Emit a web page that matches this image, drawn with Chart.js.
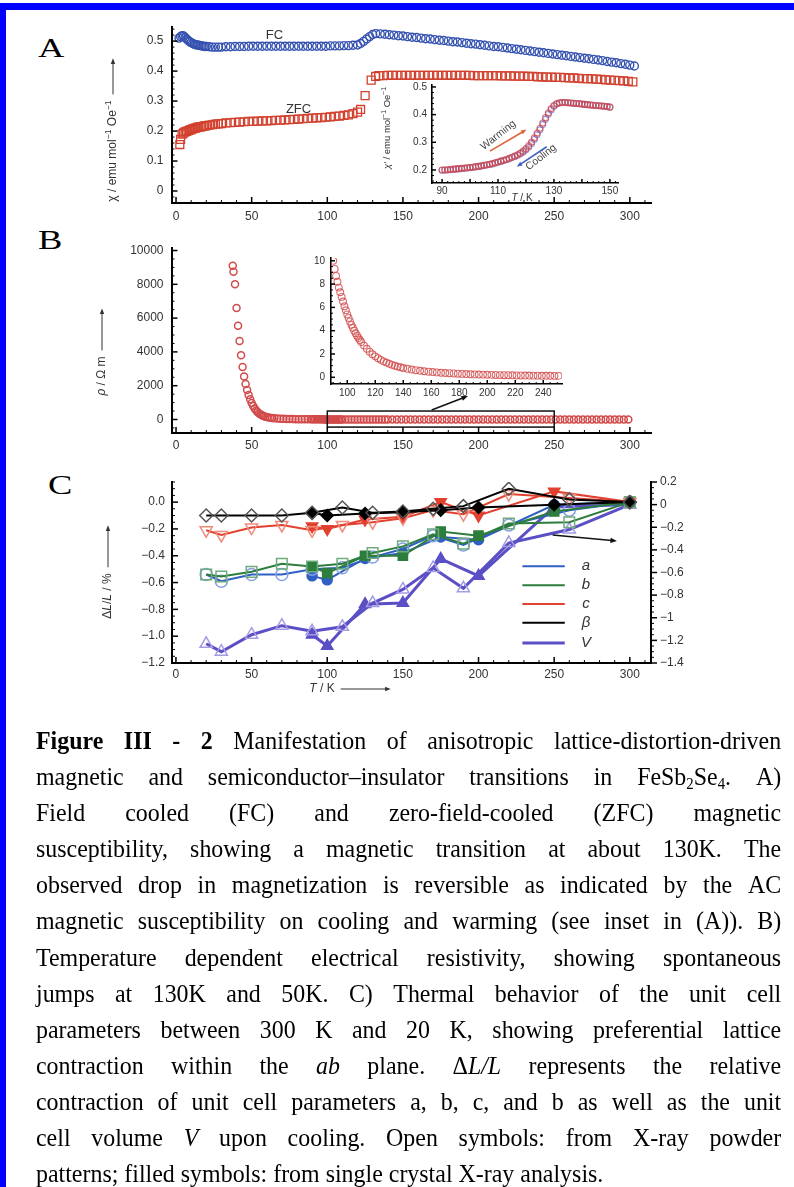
<!DOCTYPE html>
<html lang="en">
<head>
<meta charset="utf-8">
<title>Figure III - 2</title>
<script src="https://cdn.jsdelivr.net/npm/chart.js@4.4.1/dist/chart.umd.min.js"></script>
<style>
html, body { margin: 0; padding: 0; background: #fff; }
#page { position: relative; width: 794px; height: 1187px; overflow: hidden; background: #fff; }
#page canvas { position: absolute; left: 0; top: 0; }
.bar-top { position: absolute; left: 0; top: 3px; width: 794px; height: 7px; background: #0000ff; }
.bar-left { position: absolute; left: 0; top: 3px; width: 6px; height: 1184px; background: #0000ff; }
.letter { position: absolute; font-family: "Liberation Serif", "Times New Roman", serif; font-size: 27px; line-height: 1; transform: scaleX(1.35); transform-origin: left top; }
#caption { position: absolute; left: 36px; top: 723px; width: 810px; transform: scaleX(0.92); transform-origin: left top;
  font-family: "Liberation Serif", "Times New Roman", serif; font-size: 26px; color: #000; }
#caption .ln { display: flex; justify-content: space-between; height: 36.1px; line-height: 36.1px; white-space: nowrap; }
#caption .last { height: 36.1px; line-height: 36.1px; white-space: nowrap; }
#caption sub { font-size: 0.62em; vertical-align: -0.25em; line-height: 0; }
</style>
</head>
<body>
<div id="page">
  <div class="bar-top"></div>
  <div class="bar-left"></div>
  <div class="letter" style="left:38px;top:35px">A</div>
  <div class="letter" style="left:38px;top:227px">B</div>
  <div class="letter" style="left:48px;top:472px">C</div>
  <canvas id="chartA" width="794" height="1187"></canvas>
  <canvas id="insetA" width="794" height="1187"></canvas>
  <canvas id="chartB" width="794" height="1187"></canvas>
  <canvas id="insetB" width="794" height="1187"></canvas>
  <canvas id="chartC" width="794" height="1187"></canvas>
  <div id="caption"></div>
</div>
<script>
// ---------- A : FC / ZFC susceptibility ----------
const fcT = [2,3,4,5,6,7,8,9,10,11,12,13,14,15,16,17,18,19,20,
  22,24,26,28,30,
  33,36,39,42,45,48,51,54,57,60,63,66,69,72,75,78,81,84,87,90,93,96,99,102,105,108,111,114,117,120,
  122,124,126,128,130,132,
  135,138,141,144,147,150,153,156,159,162,165,168,171,174,177,180,183,186,189,192,195,198,201,204,207,210,
  213,216,219,222,225,228,231,234,237,240,243,246,249,252,255,258,261,264,267,270,273,276,279,282,285,288,
  291,294,297,300,303];
const fcChi = [0.510,0.515,0.518,0.517,0.512,0.507,0.502,0.498,0.495,0.492,0.490,0.488,0.487,0.486,0.485,0.484,0.483,0.482,0.482,
  0.481,0.480,0.480,0.480,0.480,
  0.481,0.481,0.482,0.482,0.482,0.483,0.483,0.483,0.483,0.483,0.483,0.483,0.483,0.483,0.483,0.483,0.483,0.483,0.483,0.483,
  0.483,0.483,0.483,0.484,0.484,0.484,0.485,0.485,0.486,0.487,
  0.492,0.499,0.507,0.515,0.522,0.525,
  0.524,0.523,0.521,0.520,0.518,0.517,0.515,0.513,0.512,0.510,0.508,0.507,0.505,0.503,0.502,0.500,0.498,0.497,0.495,0.493,
  0.491,0.490,0.488,0.486,0.484,0.482,0.481,0.479,0.477,0.475,0.473,0.471,0.469,0.467,0.465,0.463,0.461,0.459,0.457,0.455,
  0.453,0.451,0.449,0.447,0.445,0.443,0.441,0.439,0.437,0.435,0.432,0.430,0.428,0.425,0.423,0.420,0.417];
const zfcT = [2.5,3,4,5,6,7,8,9,10,11,12,13,14,15,16,17,18,19,20,
  22,24,26,28,30,
  33,36,39,42,45,48,51,54,57,60,63,66,69,72,75,78,81,84,87,90,93,96,99,102,105,108,111,114,117,120,
  122,125,129,132,134,
  137,140,143,146,149,152,155,158,161,164,167,170,173,176,179,182,185,188,191,194,197,200,203,206,209,212,
  215,218,221,224,227,230,233,236,239,242,245,248,251,254,257,260,263,266,269,272,275,278,281,284,287,290,
  293,296,299,302];
const zfcChi = [0.155,0.172,0.190,0.194,0.197,0.199,0.201,0.203,0.205,0.207,0.209,0.210,0.212,0.213,0.214,0.215,0.216,0.217,0.218,
  0.220,0.221,0.223,0.224,0.225,
  0.227,0.228,0.229,0.230,0.231,0.232,0.232,0.233,0.234,0.234,0.235,0.236,0.236,0.237,0.238,0.239,0.240,0.241,0.242,0.243,
  0.244,0.245,0.246,0.247,0.249,0.250,0.252,0.254,0.258,0.263,
  0.272,0.318,0.370,0.382,0.385,
  0.385,0.386,0.386,0.386,0.386,0.386,0.386,0.386,0.386,0.386,0.386,0.386,0.386,0.386,0.386,0.386,0.386,0.386,0.386,0.386,
  0.385,0.385,0.385,0.385,0.385,0.385,0.384,0.384,0.384,0.383,0.383,0.383,0.382,0.382,0.381,0.381,0.380,0.380,0.379,0.379,
  0.378,0.377,0.377,0.376,0.375,0.375,0.374,0.373,0.372,0.371,0.370,0.369,0.368,0.367,0.366,0.364];

// inset A : AC susceptibility, warming / cooling
const acT = [90,91,92,93,94,95,96,97,98,99,100,101,102,103,104,105,106,107,108,109,110,111,112,113,114,115,116,117,118,119,
  120,121,122,123,124,125,126,127,128,129,130,131,132,133,134,135,136,137,138,139,140,141,142,143,144,145,146,147,148,149,150];
const acWarm = [0.200,0.200,0.201,0.202,0.203,0.204,0.205,0.206,0.207,0.208,0.209,0.210,0.212,0.213,0.215,0.217,0.219,0.221,0.223,0.226,
  0.229,0.232,0.235,0.238,0.242,0.246,0.250,0.255,0.261,0.268,0.277,0.288,0.301,0.316,0.333,0.351,0.370,0.389,0.407,0.422,
  0.433,0.440,0.443,0.444,0.444,0.443,0.442,0.441,0.440,0.439,0.438,0.437,0.436,0.435,0.434,0.433,0.432,0.431,0.430,0.429,0.427];
const acCool = [0.199,0.200,0.200,0.201,0.202,0.203,0.204,0.205,0.206,0.207,0.208,0.210,0.211,0.213,0.214,0.216,0.218,0.220,0.222,0.225,
  0.228,0.231,0.234,0.237,0.241,0.245,0.249,0.253,0.259,0.265,0.273,0.283,0.296,0.310,0.327,0.345,0.364,0.383,0.401,0.417,
  0.430,0.438,0.442,0.444,0.444,0.443,0.442,0.441,0.440,0.439,0.438,0.437,0.436,0.435,0.434,0.433,0.432,0.431,0.430,0.429,0.427];

// ---------- B : resistivity ----------
const rhoLowT = [37.5,38,39,40,41,42,43,44,45,46,47,48,49,50,51,52,53,54,55,56,57,58,59,60.5,62,63.5,65,67,69,71,73,75,77,79,81,83,85,87,89];
const rhoLow = [9100,8750,8000,6600,5550,4650,3800,3100,2550,2100,1750,1450,1200,980,800,650,530,430,350,290,
  240,200,165,130,105,85,68,55,45,38,32,28,24,21,18,16,14.5,13,11.5];
const rhoMidT = [90,91,92,93,94,95,96,97,98,99,100,101,102,103,104,105,106,107,108,109,110,
  112,114,116,118,120,122,124,126,128,130,132,134,136,138,140,
  143,146,149,152,155,158,161,164,167,170,173,176,179,182,185,188,191,194,197,200,203,206,209,212,215,218,221,224,227,
  230,233,236,239,242,245,248,251];
const rhoMid = [10.0,9.3,8.7,8.2,7.7,7.3,6.9,6.5,6.1,5.75,5.4,5.1,4.8,4.5,4.25,4.0,3.78,3.57,3.38,3.2,3.03,
  2.72,2.45,2.2,1.98,1.8,1.64,1.5,1.37,1.26,1.16,1.07,0.99,0.92,0.86,0.8,
  0.73,0.67,0.61,0.56,0.52,0.48,0.45,0.42,0.39,0.37,0.35,0.33,0.31,0.29,0.28,0.26,0.25,0.24,0.23,0.22,0.21,0.2,0.19,0.18,
  0.18,0.17,0.16,0.16,0.15,0.15,0.14,0.14,0.13,0.13,0.13,0.12,0.12];
const rhoHighT = [254,257,260,263,266,269,272,275,278,281,284,287,290,293,296,299];
const rhoHigh = [0.12,0.11,0.11,0.11,0.1,0.1,0.1,0.1,0.09,0.09,0.09,0.09,0.09,0.08,0.08,0.08];

// ---------- C : lattice parameters, dL/L in % ----------
const powderT = [20,30,50,70,90,110,130,150,170,190,220,260,300];   // open symbols
const crystalT = [90,100,125,150,175,200,250,300];                   // filled symbols
const aOpen = [-0.54,-0.59,-0.54,-0.54,-0.50,-0.49,-0.41,-0.35,-0.25,-0.32,-0.17,-0.06,0];
const aFill = [-0.55,-0.58,-0.42,-0.38,-0.26,-0.28,-0.02,0];
const bOpen = [-0.54,-0.555,-0.52,-0.46,-0.48,-0.46,-0.38,-0.33,-0.24,-0.31,-0.16,-0.15,0];
const bFill = [-0.48,-0.53,-0.40,-0.40,-0.22,-0.25,-0.07,0];
const cOpen = [-0.21,-0.245,-0.19,-0.17,-0.21,-0.17,-0.15,-0.12,-0.06,-0.09,0.06,0.03,0];
const cFill = [-0.18,-0.20,-0.13,-0.11,0.0,-0.10,0.08,0];
const betaOpen = [-0.10,-0.10,-0.10,-0.10,-0.08,-0.04,-0.08,-0.07,-0.05,-0.03,0.10,0.02,0];
const betaFill = [-0.08,-0.10,-0.085,-0.075,-0.06,-0.04,-0.02,0];
const vOpen = [-1.23,-1.30,-1.15,-1.07,-1.12,-1.08,-0.87,-0.75,-0.56,-0.74,-0.34,-0.22,0];   // right axis
const vFill = [-1.15,-1.25,-0.88,-0.87,-0.48,-0.63,-0.02,0];

// tick labels
const tempTicks = [0,50,100,150,200,250,300];
const chiTicks = [0,0.1,0.2,0.3,0.4,0.5];
const acTempTicks = [90,110,130,150];
const acChiTicks = [0.2,0.3,0.4,0.5];
const rhoTicks = [0,2000,4000,6000,8000,10000];
const rhoInTempTicks = [100,120,140,160,180,200,220,240];
const rhoInTicks = [0,2,4,6,8,10];
const dlTicks = [-1.2,-1.0,-0.8,-0.6,-0.4,-0.2,0.0];
const dvTicks = [-1.4,-1.2,-1,-0.8,-0.6,-0.4,-0.2,0,0.2];
const legendNames = ['a','b','c','β','V'];

const PAGE_W = 794, PAGE_H = 1187;
const FONT = '"Liberation Sans", Arial, sans-serif';
const TXT = '#333';
const MINUS = '\u2212';

const pts = (xs, ys) => xs.map((x, i) => ({ x: x, y: ys[i] }));

// chart area is placed at box (page pixels) - every canvas covers the whole page
function layoutFor(box, leftW, bottomH, rightW) {
  return { padding: { left: box.left - leftW, top: box.top, right: PAGE_W - box.right - (rightW || 0), bottom: PAGE_H - box.bottom - bottomH } };
}

function axis(o) {
  return {
    type: 'linear', position: o.position, min: o.min, max: o.max,
    grid: { display: true, drawOnChartArea: false, drawTicks: false },
    border: { display: true, color: '#000', width: o.lw || 2 },
    ticks: { autoSkip: false, maxRotation: 0, minRotation: 0, padding: o.pad, color: TXT,
      font: { family: FONT, size: o.size }, callback: o.fmt },
    afterBuildTicks: s => { s.ticks = o.ticks.map(v => ({ value: v })); },
    afterFit: s => {
      if (o.position === 'bottom') s.height = o.thick; else s.width = o.thick;
      s.paddingLeft = s.paddingRight = s.paddingTop = s.paddingBottom = 0;
    }
  };
}

function partFont(p, it) {
  const size = p.sup ? it.size * 0.72 : it.size;
  return (p.i ? 'italic ' : '') + size + 'px ' + FONT;
}

function drawRich(ctx, x, y, it) {
  const parts = it.parts || [{ t: it.text }];
  let w = 0;
  const widths = parts.map(p => { ctx.font = partFont(p, it); const pw = ctx.measureText(p.t).width; w += pw; return pw; });
  const gap = it.arrow ? 6 : 0;
  const total = w + gap + (it.arrow || 0);
  ctx.translate(x, y);
  ctx.rotate((it.rot || 0) * Math.PI / 180);
  ctx.fillStyle = it.color || TXT;
  ctx.textBaseline = 'middle';
  ctx.textAlign = 'left';
  let cx = -total / 2;
  parts.forEach((p, i) => {
    ctx.font = partFont(p, it);
    ctx.fillText(p.t, cx, p.sup ? -it.size * 0.35 : 0);
    cx += widths[i];
  });
  if (it.arrow) {
    ctx.strokeStyle = it.color || TXT;
    ctx.lineWidth = 1;
    ctx.beginPath();
    ctx.moveTo(cx + gap, 0);
    ctx.lineTo(total / 2 - 3, 0);
    ctx.stroke();
    arrowHead(ctx, 0, 0, total / 2, 0, 6, it.color || TXT);
  }
}

function arrowHead(ctx, x1, y1, x2, y2, size, color) {
  const a = Math.atan2(y2 - y1, x2 - x1);
  ctx.beginPath();
  ctx.moveTo(x2, y2);
  ctx.lineTo(x2 - size * Math.cos(a - 0.38), y2 - size * Math.sin(a - 0.38));
  ctx.lineTo(x2 - size * Math.cos(a + 0.38), y2 - size * Math.sin(a + 0.38));
  ctx.closePath();
  ctx.fillStyle = color;
  ctx.fill();
}

function toPx(chart, it, kx, ky) {
  return [chart.scales[it.xs || 'x'].getPixelForValue(it[kx]), chart.scales[it.ys || 'y'].getPixelForValue(it[ky])];
}

function drawItem(chart, ctx, it) {
  ctx.save();
  if (it.type === 'arrow' || it.type === 'seg') {
    const [x1, y1] = toPx(chart, it, 'x1', 'y1');
    const [x2, y2] = toPx(chart, it, 'x2', 'y2');
    const a = Math.atan2(y2 - y1, x2 - x1);
    const back = it.type === 'arrow' ? it.head * 0.7 : 0;
    ctx.strokeStyle = it.color;
    ctx.lineWidth = it.lw || 1.5;
    ctx.beginPath();
    ctx.moveTo(x1, y1);
    ctx.lineTo(x2 - back * Math.cos(a), y2 - back * Math.sin(a));
    ctx.stroke();
    if (it.type === 'arrow') arrowHead(ctx, x1, y1, x2, y2, it.head, it.color);
  } else if (it.type === 'rect') {
    const [x1, y1] = toPx(chart, it, 'x1', 'y1');
    const [x2, y2] = toPx(chart, it, 'x2', 'y2');
    ctx.strokeStyle = it.color;
    ctx.lineWidth = it.lw || 1.5;
    ctx.strokeRect(Math.min(x1, x2), Math.min(y1, y2), Math.abs(x2 - x1), Math.abs(y2 - y1));
  } else if (it.type === 'text') {
    const [x, y] = toPx(chart, it, 'x', 'y');
    drawRich(ctx, x, y, it);
  } else if (it.type === 'title') {
    drawRich(ctx, it.px, it.py, it);
  }
  ctx.restore();
}

// small tick marks drawn inside (or outside) the axes
function innerTicks(chart, ctx, t) {
  const s = chart.scales[t.axis], a = chart.chartArea;
  const dir = t.out ? -1 : 1;
  const n0 = Math.ceil(s.min / t.minor - 1e-6), n1 = Math.floor(s.max / t.minor + 1e-6);
  ctx.save();
  ctx.strokeStyle = '#000';
  for (let i = n0; i <= n1; i++) {
    const v = i * t.minor;
    const r = v / t.major;
    const major = Math.abs(r - Math.round(r)) < 1e-6;
    const len = major ? t.ml : t.nl;
    const p = s.getPixelForValue(v);
    ctx.lineWidth = major ? 1.5 : 1;
    ctx.beginPath();
    if (s.isHorizontal()) { ctx.moveTo(p, a.bottom); ctx.lineTo(p, a.bottom - len * dir); }
    else if (s.position === 'left') { ctx.moveTo(a.left, p); ctx.lineTo(a.left + len * dir, p); }
    else { ctx.moveTo(a.right, p); ctx.lineTo(a.right - len * dir, p); }
    ctx.stroke();
  }
  ctx.restore();
}

function marks(spec) {
  return {
    id: 'marks',
    afterDatasetsDraw(chart) { (spec.items || []).forEach(it => drawItem(chart, chart.ctx, it)); },
    afterDraw(chart) { (spec.ticks || []).forEach(t => innerTicks(chart, chart.ctx, t)); }
  };
}

function baseOptions(box, scales, leftW, bottomH, rightW) {
  return {
    responsive: false, animation: false, devicePixelRatio: 1,
    layout: layoutFor(box, leftW, bottomH, rightW),
    plugins: { legend: { display: false }, tooltip: { enabled: false } },
    scales: scales
  };
}

const fmt1 = v => (v === 0 ? '0' : v.toFixed(1));
const fmtDl = v => (Math.abs(v) < 1e-9 ? '0.0' : (v < 0 ? MINUS : '') + Math.abs(v).toFixed(1));
const fmtDv = v => {
  if (Math.abs(v) < 1e-9) return '0';
  let s = Math.abs(v).toFixed(1);
  if (s.endsWith('.0')) s = s.slice(0, -2);
  return (v < 0 ? MINUS : '') + s;
};
const fmtInt = v => String(v);

// ---------- chart A ----------
const boxA = { left: 171.5, right: 651, top: 27, bottom: 203 };
new Chart(document.getElementById('chartA'), {
  type: 'scatter',
  data: { datasets: [
    { data: pts(fcT, fcChi), pointStyle: 'circle', pointRadius: 4, pointBorderWidth: 1.4,
      pointBorderColor: '#3552b0', pointBackgroundColor: 'rgba(255,255,255,0)' },
    { data: pts(zfcT, zfcChi), pointStyle: 'rect', pointRadius: 5.6, pointBorderWidth: 1.3,
      pointBorderColor: '#d2412e', pointBackgroundColor: 'rgba(255,255,255,0)' }
  ] },
  options: baseOptions(boxA, {
    x: axis({ position: 'bottom', min: -3, max: 314, ticks: tempTicks, fmt: fmtInt, size: 12, pad: 6, thick: 30 }),
    y: axis({ position: 'left', min: -0.04, max: 0.547, ticks: chiTicks, fmt: fmt1, size: 12, pad: 8, thick: 60 })
  }, 60, 30),
  plugins: [marks({
    ticks: [
      { axis: 'x', major: 50, minor: 10, ml: 6, nl: 3 },
      { axis: 'y', major: 0.1, minor: 0.02, ml: 6, nl: 3 }
    ],
    items: [
      { type: 'text', x: 65, y: 0.52, text: 'FC', size: 13 },
      { type: 'text', x: 81, y: 0.272, text: 'ZFC', size: 13 },
      { type: 'title', px: 113, py: 130, rot: -90, size: 12, arrow: 36,
        parts: [{ t: 'χ / emu mol' }, { t: '−1', sup: true }, { t: ' Oe' }, { t: '−1', sup: true }] }
    ]
  })]
});

// ---------- inset A ----------
const boxAi = { left: 432, right: 618, top: 85, bottom: 183 };
new Chart(document.getElementById('insetA'), {
  type: 'scatter',
  data: { datasets: [
    { data: pts(acT, acWarm), pointStyle: 'circle', pointRadius: 3, pointBorderWidth: 1.1,
      pointBorderColor: 'rgba(214,70,70,0.75)', pointBackgroundColor: 'rgba(255,255,255,0)' },
    { data: pts(acT, acCool), pointStyle: 'circle', pointRadius: 3, pointBorderWidth: 1.1,
      pointBorderColor: 'rgba(80,90,205,0.6)', pointBackgroundColor: 'rgba(255,255,255,0)' }
  ] },
  options: baseOptions(boxAi, {
    x: axis({ position: 'bottom', min: 86.4, max: 152.9, ticks: acTempTicks, fmt: fmtInt, size: 10, pad: 2, thick: 14, lw: 1.6 }),
    y: axis({ position: 'left', min: 0.153, max: 0.507, ticks: acChiTicks, fmt: fmt1, size: 10, pad: 5, thick: 30, lw: 1.6 })
  }, 30, 14),
  plugins: [marks({
    ticks: [
      { axis: 'x', major: 10, minor: 2, ml: 4, nl: 2 },
      { axis: 'y', major: 0.1, minor: 0.02, ml: 4, nl: 2 }
    ],
    items: [
      { type: 'arrow', x1: 107.1, y1: 0.268, x2: 120.2, y2: 0.346, color: '#e0623c', lw: 1.6, head: 6 },
      { type: 'arrow', x1: 127.4, y1: 0.284, x2: 116.7, y2: 0.212, color: '#4262c4', lw: 1.6, head: 6 },
      { type: 'text', x: 110.1, y: 0.326, text: 'Warming', size: 10.5, rot: -38, color: '#444' },
      { type: 'text', x: 125.4, y: 0.246, text: 'Cooling', size: 10.5, rot: -38, color: '#444' },
      { type: 'title', px: 387, py: 128, rot: -90, size: 9.5,
        parts: [{ t: 'χ′', i: true }, { t: ' / emu mol' }, { t: '−1', sup: true }, { t: ' Oe' }, { t: '−1', sup: true }] },
      { type: 'title', px: 522, py: 198, size: 10, parts: [{ t: 'T', i: true }, { t: ' / K' }] }
    ]
  })]
});

// ---------- chart B ----------
const boxB = { left: 171.5, right: 651, top: 248, bottom: 433 };
new Chart(document.getElementById('chartB'), {
  type: 'scatter',
  data: { datasets: [
    { data: pts(rhoLowT, rhoLow).concat(pts(rhoMidT, rhoMid), pts(rhoHighT, rhoHigh)),
      pointStyle: 'circle', pointRadius: 3.5, pointBorderWidth: 1.5,
      pointBorderColor: '#d24a4a', pointBackgroundColor: 'rgba(255,255,255,0)' }
  ] },
  options: baseOptions(boxB, {
    x: axis({ position: 'bottom', min: -3, max: 314, ticks: tempTicks, fmt: fmtInt, size: 12, pad: 5, thick: 30 }),
    y: axis({ position: 'left', min: -800, max: 10150, ticks: rhoTicks, fmt: fmtInt, size: 12, pad: 8, thick: 70 })
  }, 70, 30),
  plugins: [marks({
    ticks: [
      { axis: 'x', major: 50, minor: 10, ml: 6, nl: 3 },
      { axis: 'y', major: 2000, minor: 500, ml: 6, nl: 3 }
    ],
    items: [
      { type: 'rect', x1: 100, y1: -450, x2: 250, y2: 500, color: '#111', lw: 1.5 },
      { type: 'arrow', x1: 169, y1: 560, x2: 193, y2: 1390, color: '#111', lw: 1.5, head: 7 },
      { type: 'title', px: 102, py: 352, rot: -90, size: 12, arrow: 42,
        parts: [{ t: 'ρ', i: true }, { t: ' / Ω m' }] }
    ]
  })]
});

// ---------- inset B ----------
const boxBi = { left: 331, right: 562, top: 258, bottom: 384 };
new Chart(document.getElementById('insetB'), {
  type: 'scatter',
  data: { datasets: [
    { data: pts(rhoMidT, rhoMid), pointStyle: 'circle', pointRadius: 3.4, pointBorderWidth: 1.1,
      pointBorderColor: 'rgba(210,80,80,0.85)', pointBackgroundColor: 'rgba(255,255,255,0)' }
  ] },
  options: baseOptions(boxBi, {
    x: axis({ position: 'bottom', min: 88.4, max: 253.4, ticks: rhoInTempTicks, fmt: fmtInt, size: 10, pad: 3, thick: 14, lw: 1.6 }),
    y: axis({ position: 'left', min: -0.575, max: 10.24, ticks: rhoInTicks, fmt: fmtInt, size: 10, pad: 6, thick: 30, lw: 1.6 })
  }, 30, 14),
  plugins: [marks({
    ticks: [
      { axis: 'x', major: 20, minor: 5, ml: 4, nl: 2 },
      { axis: 'y', major: 2, minor: 0.5, ml: 4, nl: 2 }
    ]
  })]
});

// ---------- chart C ----------
const styleC = {
  a: { line: '#2f5fc4', open: '#86a0e0', shape: 'circle', ro: 6, rf: 5 },
  b: { line: '#2d7d3c', open: '#6fab7e', shape: 'rect', ro: 7.5, rf: 6.5 },
  c: { line: '#e2412f', open: '#f08a7a', shape: 'triangle', rot: 180, ro: 7, rf: 6.5 },
  beta: { line: '#000000', open: '#555555', shape: 'rectRot', ro: 6.5, rf: 6 },
  v: { line: '#5a4fc4', open: '#a49be6', shape: 'triangle', ro: 7, rf: 6.5, lw: 3, axis: 'y1' }
};
function series(T, V, st, filled) {
  return {
    data: pts(T, V), yAxisID: st.axis || 'y', showLine: true,
    borderColor: st.line, borderWidth: st.lw || 2,
    pointStyle: st.shape, pointRotation: st.rot || 0,
    pointRadius: filled ? st.rf : st.ro, pointBorderWidth: 1.5,
    pointBorderColor: filled ? st.line : st.open,
    pointBackgroundColor: filled ? st.line : 'rgba(255,255,255,0)'
  };
}
const boxC = { left: 172, right: 651, top: 482, bottom: 663 };
const legendY = [-0.478, -0.62, -0.76, -0.90, -1.05];
const legendColors = [styleC.a.line, styleC.b.line, styleC.c.line, styleC.beta.line, styleC.v.line];
const legendItems = [];
legendNames.forEach((name, i) => {
  legendItems.push({ type: 'seg', x1: 229, y1: legendY[i], x2: 257, y2: legendY[i], color: legendColors[i], lw: i === 4 ? 3 : 2 });
  legendItems.push({ type: 'text', x: 271, y: legendY[i], size: 15, parts: [{ t: name, i: true }] });
});
new Chart(document.getElementById('chartC'), {
  type: 'scatter',
  data: { datasets: [
    series(powderT, betaOpen, styleC.beta, false),
    series(crystalT, betaFill, styleC.beta, true),
    series(powderT, cOpen, styleC.c, false),
    series(crystalT, cFill, styleC.c, true),
    series(powderT, bOpen, styleC.b, false),
    series(crystalT, bFill, styleC.b, true),
    series(powderT, aOpen, styleC.a, false),
    series(crystalT, aFill, styleC.a, true),
    series(powderT, vOpen, styleC.v, false),
    series(crystalT, vFill, styleC.v, true)
  ] },
  options: baseOptions(boxC, {
    x: axis({ position: 'bottom', min: -2.6, max: 314, ticks: tempTicks, fmt: fmtInt, size: 12, pad: 4, thick: 24 }),
    y: axis({ position: 'left', min: -1.2, max: 0.15, ticks: dlTicks, fmt: fmtDl, size: 12, pad: 7, thick: 60 }),
    y1: axis({ position: 'right', min: -1.4, max: 0.2, ticks: dvTicks, fmt: fmtDv, size: 12, pad: 9, thick: 50 })
  }, 60, 24, 50),
  plugins: [marks({
    ticks: [
      { axis: 'x', major: 50, minor: 10, ml: 6, nl: 3 },
      { axis: 'y', major: 0.2, minor: 0.05, ml: 6, nl: 3 },
      { axis: 'y1', major: 0.2, minor: 0.05, ml: 6, nl: 3, out: true }
    ],
    items: legendItems.concat([
      { type: 'arrow', x1: 249, y1: -0.246, x2: 291.5, y2: -0.29, color: '#111', lw: 1.5, head: 7 },
      { type: 'title', px: 108, py: 572, rot: -90, size: 12, arrow: 42,
        parts: [{ t: 'Δ' }, { t: 'L', i: true }, { t: '/' }, { t: 'L', i: true }, { t: ' / %' }] },
      { type: 'title', px: 350, py: 689, size: 12, arrow: 50, parts: [{ t: 'T', i: true }, { t: ' / K' }] }
    ])
  })]
});

// ---------- caption ----------
const captionLines = [
  '<b>Figure</b> <b>III</b> <b>-</b> <b>2</b> Manifestation of anisotropic lattice-distortion-driven',
  'magnetic and semiconductor–insulator transitions in FeSb<sub>2</sub>Se<sub>4</sub>. A)',
  'Field cooled (FC) and zero-field-cooled (ZFC) magnetic',
  'susceptibility, showing a magnetic transition at about 130K. The',
  'observed drop in magnetization is reversible as indicated by the AC',
  'magnetic susceptibility on cooling and warming (see inset in (A)). B)',
  'Temperature dependent electrical resistivity, showing spontaneous',
  'jumps at 130K and 50K. C) Thermal behavior of the unit cell',
  'parameters between 300 K and 20 K, showing preferential lattice',
  'contraction within the <i>ab</i> plane. Δ<i>L/L</i> represents the relative',
  'contraction of unit cell parameters a, b, c, and b as well as the unit',
  'cell volume <i>V</i> upon cooling. Open symbols: from X-ray powder',
  'patterns; filled symbols: from single crystal X-ray analysis.'
];
const caption = document.getElementById('caption');
captionLines.forEach((ln, i) => {
  const d = document.createElement('div');
  if (i === captionLines.length - 1) {
    d.className = 'last';
    d.innerHTML = ln;
  } else {
    d.className = 'ln';
    d.innerHTML = ln.split(' ').map(w => '<span>' + w + '</span>').join('');
  }
  caption.appendChild(d);
});
</script>
</body>
</html>
